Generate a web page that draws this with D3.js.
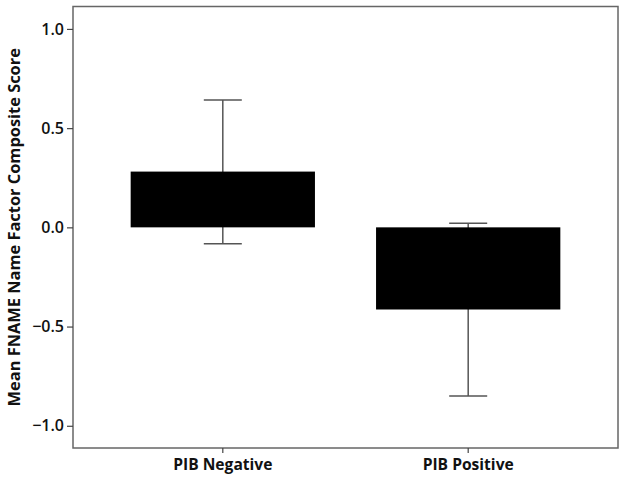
<!DOCTYPE html>
<html><head><meta charset="utf-8">
<script src="https://cdn.jsdelivr.net/npm/d3@7"></script>
<style>body{margin:0;background:#fff}</style>
</head><body>
<script>
const categories = ["PIB Negative", "PIB Positive"];
const means = [0.281, -0.414];
const errLow = [-0.083, -0.85];
const errHigh = [0.642, 0.021];
const yTicks = [-1.0, -0.5, 0.0, 0.5, 1.0];
const yTitle = "Mean FNAME Name Factor Composite Score";

const W = 625, H = 482;
const m = {left: 73, right: 7, top: 6.5, bottom: 34};
const svg = d3.select("body").append("svg").attr("width", W).attr("height", H);
const x = d3.scaleBand().domain(categories).range([m.left, W - m.right]).paddingInner(0.249).paddingOuter(0.235);
const y = d3.scaleLinear().domain([-1.112, 1.113]).range([H - m.bottom, m.top]);

const font = "'Open Sans', 'DejaVu Sans', sans-serif";

// error bars
const cap = 38;
categories.forEach((c, i) => {
  const cx = x(c) + x.bandwidth() / 2;
  const g = svg.append("g").attr("stroke", "#555").attr("stroke-width", 1.5);
  g.append("line").attr("x1", cx).attr("x2", cx).attr("y1", y(errLow[i])).attr("y2", y(errHigh[i]));
  g.append("line").attr("x1", cx - cap/2).attr("x2", cx + cap/2).attr("y1", y(errLow[i])).attr("y2", y(errLow[i]));
  g.append("line").attr("x1", cx - cap/2).attr("x2", cx + cap/2).attr("y1", y(errHigh[i])).attr("y2", y(errHigh[i]));
});

// bars (on top of error bar stems)
svg.selectAll("rect.bar").data(categories).join("rect")
  .attr("x", d => x(d)).attr("width", x.bandwidth())
  .attr("y", (d, i) => y(Math.max(0, means[i])))
  .attr("height", (d, i) => Math.abs(y(means[i]) - y(0)))
  .attr("fill", "#000");

// frame
svg.append("rect").attr("x", m.left).attr("y", m.top)
  .attr("width", W - m.right - m.left).attr("height", H - m.bottom - m.top)
  .attr("fill", "none").attr("stroke", "#666").attr("stroke-width", 1.5);

// y axis
const ya = svg.append("g").attr("transform", `translate(${m.left},0)`)
  .call(d3.axisLeft(y).tickValues(yTicks).tickFormat(d3.format(".1f")).tickSize(6).tickPadding(3));
ya.select(".domain").remove();
ya.selectAll(".tick line").attr("stroke", "#444").attr("stroke-width", 1.2);
ya.selectAll(".tick text").attr("font-family", font).attr("font-size", 16).attr("font-weight", 600).attr("fill", "#111");

// x axis
const xa = svg.append("g").attr("transform", `translate(0,${H - m.bottom})`)
  .call(d3.axisBottom(x).tickSize(5).tickPadding(6));
xa.select(".domain").remove();
xa.selectAll(".tick line").attr("stroke", "#444").attr("stroke-width", 1.2);
xa.selectAll(".tick text").attr("font-family", font).attr("font-size", 15.6).attr("font-weight", 700).attr("fill", "#111");

// y title
svg.append("text").attr("transform", `translate(20,${(m.top + H - m.bottom)/2}) rotate(-90)`)
  .attr("text-anchor", "middle").attr("font-family", font).attr("font-size", 16.4).attr("font-weight", 700)
  .attr("fill", "#111").text(yTitle);
</script>
</body></html>
